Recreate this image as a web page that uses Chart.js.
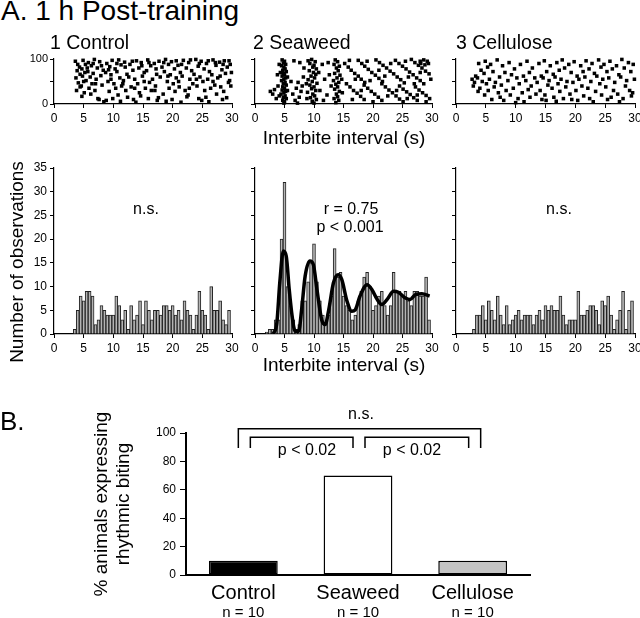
<!DOCTYPE html>
<html>
<head>
<meta charset="utf-8">
<script src="https://cdn.jsdelivr.net/npm/chart.js@4.4.1/dist/chart.umd.min.js"></script>
<style>
html, body { margin: 0; padding: 0; background: #fff; overflow: hidden; }
body { width: 640px; height: 618px; position: relative; font-family: "Liberation Sans", Arial, sans-serif; color: #000; }
canvas { position: absolute; }
.t { position: absolute; white-space: nowrap; line-height: 1; }
</style>
</head>
<body>
<script>
// ---- data ----
// histograms: 0.5 s bins, value list starts at the first centre given
const controlHistStart = 3.5;
const controlCounts = [1,5,8,7,9,9,8,2,3,6, 5,4,4,4,8,6,3,5,1,6, 3,4,7,2,7,5,3,5,5,4, 6,6,5,6,4,5,3,7,5,4, 1,4,9,5,4,1,10,5,5,7, 3,2,5];
const seaweedHistStart = 2.0;
const seaweedCounts = [0.4,1,1,3,3,20,32,10,6,3, 1,2,7,7,11,15,19,11,7,4, 2,4,8,18,12,13,8,6,5,3, 4,7,9,12,13,10,5,6,8,9, 6,4,6,13,9,9,8,9,7,6, 9,9,8,8,12,3];
const celluloseHistStart = 3.0;
const celluloseCounts = [1,4,4,6,3,7,5,3,8,4, 2,6,2,3,4,5,3,4,4,4, 2,4,5,3,6,5,6,5,5,8, 4,2,3,3,3,9,4,4,5,6, 6,5,2,7,6,8,4,1,3,5, 9,1,5,7];

// fitted damped curve on the seaweed histogram
const fitCurveX = [3.1,3.7,4.2,4.8,5.3,5.8,6.3,6.8,7.4,7.9,8.5,9.3,9.9,10.5,11.3,11.9,12.5,13.3,14.1,14.7,15.6,16.4,17.0,17.8,19.0,19.8,20.7,21.5,22.4,23.5,24.3,25.5,26.3,27.2,28.3,29.6];
const fitCurveY = [0,2.3,10.8,17.5,16.4,9.4,3.7,0.6,0.6,5.1,12.2,15.4,14.6,9.4,3,2,5.1,10.8,12.5,11.5,6.9,4.8,5.1,8,10.4,9.4,7.3,6.2,7.3,9,8.8,7.6,7.3,8.3,8.5,8];

// raster dots [interval (s), animal/trial %]
const controlDots = [
  [3.6,95],[4.3,82],[3.9,74],[4.4,66],[3.7,58],[4.1,47],[4.4,38],[3.8,30],[4.0,88],
  [4.9,97],[5.3,88],[4.7,78],[5.2,70],[4.8,62],[5.4,52],[4.6,40],[5.1,25],[4.7,17],[5.0,50],
  [5.8,92],[6.3,85],[5.7,72],[6.1,60],[6.4,45],[5.9,35],[6.2,22],[5.6,80],
  [6.8,99],[7.3,80],[6.6,68],[7.1,55],[6.9,30],[7.4,12],[6.6,90],[7.0,45],
  [7.7,94],[8.3,75],[7.9,63],[8.1,42],[7.6,10],[8.4,5],[8.0,85],
  [8.9,90],[9.4,83],[8.7,70],[9.1,50],[9.3,28],[8.8,8],[9.2,76],
  [9.8,97],[10.3,78],[9.6,65],[10.1,45],[10.4,35],[9.9,12],[9.6,55],
  [10.9,98],[11.3,87],[10.6,72],[11.1,58],[11.4,40],[10.8,20],[11.2,6],[10.6,90],
  [11.9,93],[12.3,66],[11.7,52],[12.1,30],[12.4,15],[12.0,82],[11.6,45],
  [12.8,88],[13.3,75],[12.6,60],[13.0,38],[13.4,10],[13.2,95],
  [13.9,96],[14.3,80],[13.6,55],[14.1,45],[14.4,25],[13.8,4],[13.6,35],
  [14.7,92],[15.2,70],[14.9,62],[15.4,35],[14.6,18],[14.8,85],[15.2,50],
  [15.8,98],[16.3,85],[15.6,74],[16.1,48],[16.4,30],[15.9,12],[16.0,92],
  [16.9,90],[17.3,66],[16.6,55],[17.1,40],[17.4,8],[17.2,78],[17.0,30],
  [17.7,95],[18.2,82],[17.9,60],[18.4,22],[17.6,14],
  [18.8,99],[19.3,88],[18.6,72],[19.1,50],[19.4,35],[18.9,6],[18.5,92],[19.2,62],
  [19.8,94],[20.3,78],[19.6,65],[20.1,45],[20.4,28],[19.9,10],
  [20.9,86],[21.3,70],[20.6,58],[21.1,38],[21.4,4],[20.6,96],[21.0,50],
  [21.8,97],[22.3,80],[21.6,62],[22.1,30],[22.4,16],[21.5,88],
  [22.7,92],[23.2,74],[22.9,55],[23.4,45],[22.6,20],[23.0,98],[22.8,35],
  [23.9,99],[24.3,84],[23.6,66],[24.1,40],[24.4,12],[24.0,55],
  [24.8,95],[25.3,78],[24.6,60],[25.1,50],[25.4,30],[24.9,8],[24.5,90],
  [25.7,90],[26.2,72],[25.9,55],[26.4,35],[25.6,15],[26.1,5],[26.0,96],
  [26.8,98],[27.3,86],[26.6,65],[27.1,42],[27.4,22],[27.2,92],[26.8,50],
  [27.9,93],[28.3,76],[27.6,58],[28.1,38],[28.4,10],[28.0,62],
  [28.7,96],[29.2,82],[28.9,68],[29.4,48],[28.6,28],[29.1,14],[28.5,88],
  [29.7,88],[29.9,70],[29.6,52],[29.5,96],[29.8,40]
];
const seaweedDots = [
  [2.6,28],[3.0,22],[3.3,32],[3.6,12],[3.9,40],[4.1,18],[4.1,88],[3.8,65],
  [4.6,98],[5.0,95],[4.8,91],[5.2,88],[4.5,85],[4.9,82],[5.1,78],[4.7,75],[5.3,72],[4.8,68],[5.0,65],
  [4.6,62],[5.2,58],[4.9,55],[4.5,52],[5.1,48],[4.8,45],[5.3,42],[4.7,38],[5.0,35],[4.6,31],
  [5.2,28],[4.9,25],[4.4,22],[5.1,18],[4.8,15],[5.3,12],[4.7,8],[5.0,5],[4.9,2],[5.5,60],[4.3,70],[5.5,30],
  [6.1,50],[6.4,22],[6.8,8],[7.0,35],[7.3,48],[7.5,15],[7.8,28],[7.2,2],[8.0,40],[8.2,60],[6.6,96],[7.6,92],[8.3,80],
  [9.0,96],[9.6,99],[10.2,94],[9.3,90],[10.0,86],[9.8,82],[10.4,78],[9.2,74],[9.9,70],[10.3,66],
  [9.5,62],[10.1,58],[9.0,54],[9.7,50],[10.5,46],[9.3,42],[10.0,38],[9.6,34],[10.3,30],[8.9,26],
  [9.8,22],[10.1,18],[9.4,14],[10.4,10],[9.7,6],[10.0,2],[8.7,45],[10.8,70],[11.0,30],[8.8,12],
  [11.4,88],[11.8,55],[12.2,20],[12.6,65],[12.9,40],[11.6,8],[12.4,92],
  [13.6,98],[14.0,94],[13.4,88],[14.3,84],[13.8,80],[14.1,74],[13.5,68],[14.4,64],[13.9,58],[13.3,52],
  [14.2,48],[13.7,44],[14.0,38],[13.5,33],[14.3,28],[13.8,22],[14.0,16],[13.4,12],[14.2,8],[13.7,3],[14.7,55],[14.8,25],
  [15.2,90],[15.8,82],[16.3,75],[16.9,68],[17.5,62],[18.0,55],[18.6,48],
  [17.5,97],[18.1,90],[18.6,84],[19.2,77],[19.8,70],[20.4,64],[21.0,57],[21.6,50],
  [20.5,98],[21.1,92],[21.7,86],[22.3,80],[22.9,73],[23.5,67],[24.1,60],[24.7,54],[25.3,47],
  [23.8,97],[24.4,90],[25.0,84],[25.6,78],[26.2,71],[26.8,65],[27.4,58],[28.0,52],[28.6,45],
  [26.5,99],[27.1,92],[27.7,86],[28.3,80],[28.9,73],[29.5,67],
  [15.5,45],[16.1,38],[16.7,30],[17.3,24],[17.9,17],[18.5,10],
  [18.5,42],[19.1,35],[19.7,28],[20.3,22],[20.9,15],[21.5,8],
  [21.5,45],[22.1,38],[22.7,31],[23.3,25],[23.9,18],[24.5,11],[25.1,5],
  [24.5,40],[25.1,33],[25.7,27],[26.3,21],[26.9,14],[27.5,8],
  [27.2,38],[27.8,31],[28.4,25],[29.0,19],[29.6,12],
  [28.0,95],[28.6,98],[29.2,95],[29.4,90],[28.8,87],[28.1,90],
  [16.0,97],[19.0,95],[22.0,62],[25.5,95],[27.0,45],[18.0,30],[20.0,5],[23.0,90],[26.0,60],[29.0,5],
  [17.0,55],[24.0,30],[27.5,20],[19.5,52],[22.5,18],[25.8,12],[29.8,55],[16.5,10],[21.0,75],[28.0,70]
];
const celluloseDots = [
  [2.7,55],[3.1,48],[3.3,62],[2.9,40],
  [3.8,90],[4.2,75],[3.6,58],[4.4,50],[4.0,35],[3.7,28],
  [4.9,95],[5.3,82],[4.7,68],[5.1,45],[5.4,30],[4.8,20],
  [5.8,88],[6.2,72],[5.6,55],[6.4,38],[6.0,10],
  [6.9,98],[7.3,60],[6.6,48],[7.1,25],[7.4,15],
  [7.8,85],[8.2,70],[7.6,42],[8.4,30],[8.0,8],
  [8.9,92],[9.3,65],[8.7,52],[9.1,20],
  [9.8,78],[10.2,58],[9.6,35],[10.4,12],[10.0,3],
  [10.8,88],[11.3,62],[10.6,45],[11.1,25],[11.4,5],
  [11.9,95],[12.3,70],[11.7,52],[12.1,32],[12.4,15],
  [12.8,80],[13.2,58],[12.6,40],[13.4,22],
  [13.9,90],[14.3,62],[13.6,48],[14.1,30],[14.4,10],
  [14.8,96],[15.2,72],[14.6,58],[15.4,42],[14.9,20],[15.1,8],
  [15.8,85],[16.3,66],[15.6,52],[16.1,35],[16.4,15],
  [16.9,92],[17.3,75],[16.6,60],[17.1,45],[17.4,28],[16.8,6],
  [17.8,98],[18.2,80],[17.6,55],[18.4,38],[18.0,12],
  [18.9,88],[19.3,70],[18.6,50],[19.1,22],[19.4,10],
  [19.8,94],[20.3,62],[19.6,48],[20.1,30],[20.4,8],
  [20.9,85],[21.3,72],[20.6,55],[21.1,40],[21.4,18],
  [21.8,96],[22.3,78],[21.6,60],[22.1,35],[22.4,12],
  [22.8,90],[23.2,68],[22.6,50],[23.4,28],[23.0,5],
  [23.9,98],[24.3,82],[23.6,62],[24.1,45],[24.4,20],
  [24.8,88],[25.3,72],[24.6,55],[25.1,38],[25.4,10],
  [25.8,95],[26.2,78],[25.6,58],[26.4,30],[26.0,15],
  [26.9,85],[27.3,65],[26.6,48],[27.1,22],[27.4,5],
  [27.8,99],[28.2,80],[27.6,60],[28.4,40],[28.0,12],
  [28.9,92],[29.3,72],[28.6,52],[29.1,30],[29.4,18],
  [29.7,88],[29.9,55],[29.6,25]
];

// part B
const groups = ['Control', 'Seaweed', 'Cellulose'];
const rhythmicPct = [10, 70, 10];
const groupN = ['n = 10', 'n = 10', 'n = 10'];
const groupFill = ['#000000', '#ffffff', '#c4c4c4'];

// ---- layout ----
const panelLeft = [54, 255, 456];
const panelRight = [232, 432, 635];
const FONT = '"Liberation Sans", Arial, sans-serif';

Chart.defaults.font.family = FONT;
Chart.defaults.color = '#000';
Chart.defaults.animation = false;
Chart.defaults.responsive = false;
Chart.defaults.plugins.legend.display = false;
Chart.defaults.plugins.tooltip.enabled = false;

function makeCanvas(left, top, w, h) {
  var c = document.createElement('canvas');
  c.width = w; c.height = h;
  c.style.left = left + 'px'; c.style.top = top + 'px';
  c.style.width = w + 'px'; c.style.height = h + 'px';
  document.body.appendChild(c);
  return c;
}

function addText(str, x, baseline, size, align) {
  var d = document.createElement('div');
  d.className = 't';
  d.textContent = str;
  d.style.fontSize = size + 'px';
  d.style.top = (baseline - 0.8465 * size) + 'px';
  d.style.left = x + 'px';
  if (align === 'center') d.style.transform = 'translateX(-50%)';
  document.body.appendChild(d);
}

function addVText(str, cx, cy, size) {
  var d = document.createElement('div');
  d.className = 't';
  d.textContent = str;
  d.style.fontSize = size + 'px';
  d.style.left = cx + 'px';
  d.style.top = cy + 'px';
  d.style.transform = 'translate(-50%,-50%) rotate(-90deg)';
  document.body.appendChild(d);
}

function linAxis(min, max, step, fit, labelCb) {
  return {
    type: 'linear', min: min, max: max, offset: false,
    ticks: { stepSize: step, font: { size: 12 }, color: '#000', padding: 3, maxRotation: 0, autoSkip: false,
             callback: labelCb || function (v) { return v; } },
    grid: { drawOnChartArea: false, drawTicks: true, tickLength: 4, color: '#000', lineWidth: 1, offset: false },
    border: { display: true, color: '#000', width: 1.2 },
    afterFit: fit
  };
}

function rasterChart(i, dots) {
  var yW = 40, padT = 10, areaH = 45, xH = 24, padR = 14;
  var L = panelLeft[i], R = panelRight[i];
  var cv = makeCanvas(L - yW, 59 - padT, (R - L) + yW + padR, padT + areaH + xH);
  var yLabels = i === 0 ? function (v) { return v === 50 ? '' : v; } : function () { return ''; };
  var yAxis = linAxis(0, 100, 50, function (s) { s.width = yW; }, yLabels);
  yAxis.ticks.font = { size: 11 };
  yAxis.ticks.padding = 2;
  new Chart(cv, {
    type: 'scatter',
    data: { datasets: [{
      data: dots.map(function (d) { return { x: d[0], y: d[1] }; }),
      pointStyle: 'rect', pointRadius: 2.5, backgroundColor: '#000', borderWidth: 0, clip: false
    }] },
    options: {
      layout: { padding: { left: 0, top: padT, right: padR, bottom: 0 } },
      scales: {
        x: linAxis(0, 30, 5, function (s) { s.height = xH; }),
        y: yAxis
      }
    }
  });
}

function histChart(i, start, counts, withCurve) {
  var yW = i === 0 ? 54 : 15, padT = 12, areaH = 166, xH = 24, padR = 14;
  var L = panelLeft[i], R = panelRight[i];
  var cv = makeCanvas(L - yW, 168 - padT, (R - L) + yW + padR, padT + areaH + xH);
  var datasets = [{
    type: 'bar',
    data: counts.map(function (v, k) { return { x: start + k * 0.5, y: v }; }),
    backgroundColor: '#b4b4b4', borderColor: '#222', borderWidth: 1,
    barPercentage: 1, categoryPercentage: 1, order: 1
  }];
  if (withCurve) {
    datasets.push({
      type: 'line',
      data: fitCurveX.map(function (x, k) { return { x: x, y: fitCurveY[k] }; }),
      borderColor: '#000', borderWidth: 3.5, pointRadius: 0, fill: false,
      cubicInterpolationMode: 'monotone', order: 0
    });
  }
  new Chart(cv, {
    type: 'bar',
    data: { datasets: datasets },
    options: {
      layout: { padding: { left: 0, top: padT, right: padR, bottom: 0 } },
      scales: {
        x: linAxis(0, 30, 5, function (s) { s.height = xH; }),
        y: linAxis(0, 35, 5, function (s) { s.width = yW; }, i === 0 ? null : function () { return ''; })
      }
    }
  });
}

rasterChart(0, controlDots);
rasterChart(1, seaweedDots);
rasterChart(2, celluloseDots);
histChart(0, controlHistStart, controlCounts, false);
histChart(1, seaweedHistStart, seaweedCounts, true);
histChart(2, celluloseHistStart, celluloseCounts, false);

// ---- part B ----
var bracketPlugin = {
  id: 'brackets',
  afterDraw: function (chart) {
    var ctx = chart.ctx, xs = chart.scales.x, ys = chart.scales.y;
    var c0 = xs.getPixelForValue(0), c1 = xs.getPixelForValue(1), c2 = xs.getPixelForValue(2);
    var yOuter = ys.getPixelForValue(103), yInner = ys.getPixelForValue(97), yLeg = ys.getPixelForValue(89.5);
    ctx.save();
    ctx.strokeStyle = '#000';
    ctx.lineWidth = 1.5;
    function bracket(a, b, yTop) {
      ctx.beginPath();
      ctx.moveTo(a, yLeg); ctx.lineTo(a, yTop); ctx.lineTo(b, yTop); ctx.lineTo(b, yLeg);
      ctx.stroke();
    }
    bracket(c0 - 5, c2 + 8, yOuter);
    bracket(c0 + 7, c1 - 5, yInner);
    bracket(c1 + 7, c2 - 4, yInner);
    ctx.fillStyle = '#000';
    ctx.font = '15px ' + FONT;
    ctx.textAlign = 'center';
    ctx.textBaseline = 'alphabetic';
    groupN.forEach(function (t, k) { ctx.fillText(t, xs.getPixelForValue(k), 617 - 400); });
    ctx.restore();
  }
};

var cvB = makeCanvas(0, 400, 640, 218);
new Chart(cvB, {
  type: 'bar',
  data: {
    labels: groups,
    datasets: [{
      data: rhythmicPct,
      backgroundColor: groupFill, borderColor: '#000', borderWidth: 1.5,
      borderSkipped: false, barPercentage: 0.6, categoryPercentage: 1
    }]
  },
  options: {
    layout: { padding: { left: 90, top: 33, right: 110, bottom: 0 } },
    scales: {
      x: {
        type: 'category', offset: true,
        grid: { display: false },
        border: { display: true, color: '#000', width: 2 },
        ticks: { font: { size: 20 }, color: '#000', padding: -2, maxRotation: 0 },
        afterFit: function (s) { s.height = 218 - 33 - 142; }
      },
      y: {
        min: 0, max: 100,
        ticks: { stepSize: 20, font: { size: 12 }, color: '#000', padding: 4 },
        grid: { drawOnChartArea: false, drawTicks: true, tickLength: 6, color: '#000', lineWidth: 1 },
        border: { display: true, color: '#000', width: 2 },
        title: { display: true, text: ['% animals expressing', 'rhythmic biting'], font: { size: 19 }, color: '#000', padding: 0 },
        afterFit: function (s) { s.width = 96; }
      }
    }
  },
  plugins: [bracketPlugin]
});

// ---- free text ----
addText('A. 1 h Post-training', 1, 21, 28);
addText('1 Control', 50, 50, 19.5);
addText('2 Seaweed', 253, 50, 19.5);
addText('3 Cellulose', 456, 50, 19.5);
addText('Interbite interval (s)', 344, 144, 19, 'center');
addText('Interbite interval (s)', 344, 371, 19, 'center');
addVText('Number of observations', 16, 262, 19);
addText('n.s.', 146, 215, 16, 'center');
addText('r = 0.75', 351, 215, 16, 'center');
addText('p < 0.001', 350, 233, 16, 'center');
addText('n.s.', 559, 215, 16, 'center');
addText('B.', 0, 430, 26);
addText('n.s.', 361, 420, 16, 'center');
addText('p < 0.02', 307, 456, 16, 'center');
addText('p < 0.02', 412, 456, 16, 'center');
</script>
</body>
</html>
